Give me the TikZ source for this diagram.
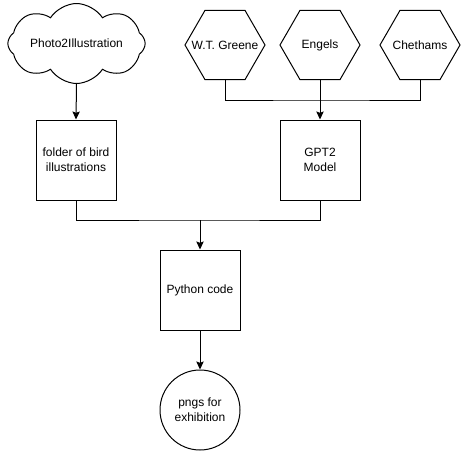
\documentclass[tikz,border=0pt]{standalone}
\usepackage{fontspec}
\setmainfont{Liberation Sans}
\usepackage{tikz}
\usetikzlibrary{shapes.geometric,shapes.symbols,arrows.meta}

\tikzset{
  flowline/.style={line width=0.75pt},
  flowarrow/.style={line width=0.75pt,-{Stealth[length=6pt,width=5.5pt,inset=1pt]}},
  procbox/.style={draw,line width=0.75pt,minimum width=60pt,minimum height=60pt,inner sep=0pt,align=center},
  sourcehex/.style={draw,line width=0.75pt,regular polygon,regular polygon sides=6,minimum size=60pt,inner sep=0pt},
}

\begin{document}
\begin{tikzpicture}[x=0.75pt,y=0.75pt,yscale=-1,xscale=1,font=\fontsize{9}{11}\selectfont]
\useasboundingbox (0,0) rectangle (461,451);

%Shape: Cloud
\node [draw,line width=0.75pt,cloud,cloud puffs=8,cloud puff arc=115,minimum width=103pt,minimum height=60pt,inner sep=0pt] (photo) at (76.5,43.5) {};
\node at (photo.center) {Photo2Illustration};

%Shape: Hexagons
\node [sourcehex,label=center:W.T. Greene] (greene) at (225,45) {};
\node [sourcehex,label=center:Engels] (engels) at (320,45) {};
\node [sourcehex,label=center:Chethams] (chethams) at (420,45) {};

%Shape: Rectangles
\node [procbox] (folder) at (76,160) {folder of bird\\illustrations};
\node [procbox] (gpt) at (320,160) {GPT2\\Model};
\node [procbox] (python) at (200,290) {Python code};

%Shape: Circle
\node [draw,line width=0.75pt,circle,minimum size=60pt,inner sep=0pt,align=center] (pngs) at (200,410) {pngs for\\exhibition};

%Straight Lines
\coordinate (hexjoin) at (320,100);
\coordinate (codejoin) at (200,220);
\draw [flowarrow] (photo.south) -- (folder.north);
\draw [flowline] (greene.south) |- (hexjoin) -| (chethams.south);
\draw [flowarrow] (engels.south) -- (gpt.north);
\draw [flowline] (folder.south) |- (codejoin) -| (gpt.south);
\draw [flowarrow] (codejoin) -- (python.north);
\draw [flowarrow] (python.south) -- (pngs.north);
\end{tikzpicture}
\end{document}
